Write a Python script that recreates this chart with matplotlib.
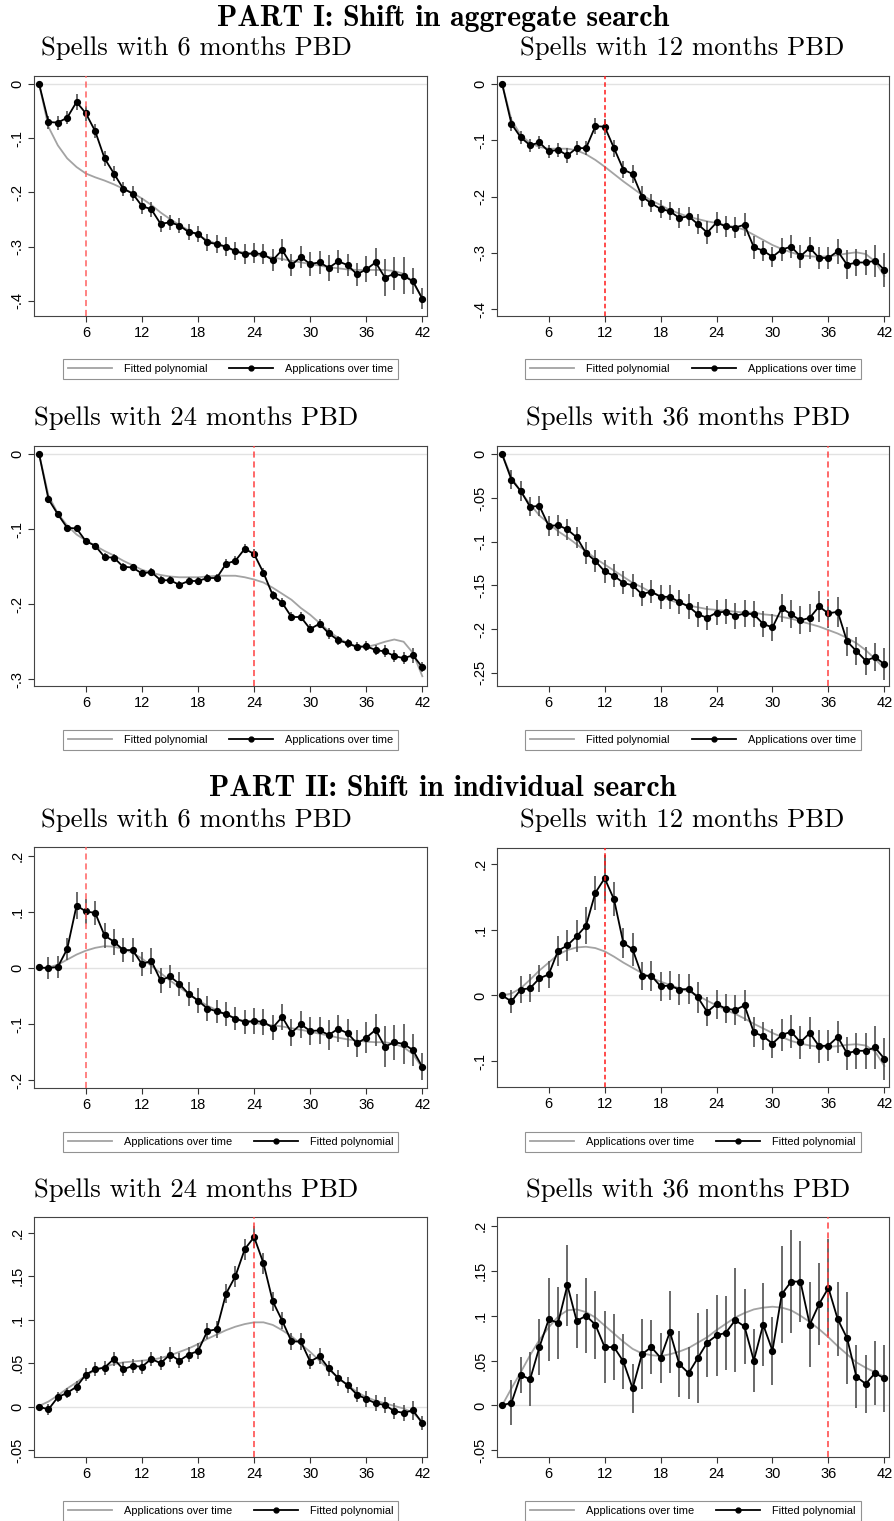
"""Applications over unemployment spell, by potential benefit duration (PBD).

Part I: aggregate search, Part II: individual search.
"""

import matplotlib
matplotlib.use("Agg")
import matplotlib.pyplot as plt
from matplotlib.lines import Line2D
from matplotlib.ticker import FuncFormatter
import numpy as np

W, H = 895, 1521
CBLK = "#000000"
CGRY = "#a3a3a3"
CERR = "#505050"
CZERO = "#e2e2e2"

months = list(range(1, 43))
xticks = [6, 12, 18, 24, 30, 36, 42]

# ---- PART I: aggregate search ----
apps_agg_6 = [0, -0.070, -0.071, -0.062, -0.033, -0.054, -0.087, -0.137, -0.165, -0.193,
              -0.202, -0.225, -0.231, -0.258, -0.255, -0.261, -0.273, -0.276, -0.292, -0.295,
              -0.300, -0.308, -0.314, -0.312, -0.314, -0.325, -0.306, -0.334, -0.319, -0.332,
              -0.329, -0.339, -0.327, -0.334, -0.351, -0.342, -0.329, -0.357, -0.350, -0.354,
              -0.364, -0.396]
ci_agg_6 = [0, 0.012, 0.013, 0.012, 0.015, 0.014, 0.013, 0.014, 0.014, 0.013,
            0.014, 0.014, 0.014, 0.015, 0.014, 0.014, 0.015, 0.015, 0.016, 0.016,
            0.018, 0.017, 0.018, 0.018, 0.018, 0.020, 0.020, 0.020, 0.020, 0.022,
            0.021, 0.024, 0.021, 0.021, 0.021, 0.024, 0.026, 0.034, 0.030, 0.034,
            0.024, 0.020]
fit_agg_6 = [0, -0.079, -0.113, -0.137, -0.153, -0.165, -0.172, -0.178, -0.185, -0.193,
             -0.201, -0.211, -0.223, -0.237, -0.249, -0.260, -0.270, -0.279, -0.288, -0.295,
             -0.302, -0.308, -0.311, -0.314, -0.318, -0.320, -0.323, -0.326, -0.329, -0.332,
             -0.335, -0.338, -0.340, -0.342, -0.343, -0.343, -0.343, -0.343, -0.345, -0.350,
             -0.365, -0.396]

apps_agg_12 = [0, -0.071, -0.095, -0.109, -0.104, -0.120, -0.117, -0.127, -0.114, -0.114,
               -0.075, -0.076, -0.114, -0.152, -0.160, -0.200, -0.212, -0.222, -0.226, -0.238,
               -0.235, -0.249, -0.264, -0.246, -0.253, -0.255, -0.250, -0.290, -0.296, -0.307,
               -0.294, -0.289, -0.306, -0.291, -0.309, -0.309, -0.297, -0.321, -0.317, -0.317,
               -0.314, -0.330]
ci_agg_12 = [0, 0.012, 0.012, 0.012, 0.012, 0.012, 0.012, 0.013, 0.013, 0.013,
             0.014, 0.014, 0.015, 0.015, 0.016, 0.018, 0.016, 0.016, 0.016, 0.017,
             0.017, 0.018, 0.020, 0.018, 0.018, 0.018, 0.020, 0.020, 0.018, 0.018,
             0.020, 0.020, 0.020, 0.020, 0.020, 0.020, 0.022, 0.026, 0.024, 0.023,
             0.028, 0.030]
fit_agg_12 = [0, -0.064, -0.091, -0.105, -0.112, -0.115, -0.115, -0.115, -0.118, -0.125,
              -0.135, -0.147, -0.160, -0.173, -0.185, -0.197, -0.207, -0.215, -0.224, -0.230,
              -0.236, -0.240, -0.244, -0.247, -0.251, -0.254, -0.259, -0.268, -0.277, -0.286,
              -0.293, -0.299, -0.304, -0.306, -0.307, -0.306, -0.304, -0.301, -0.299, -0.302,
              -0.315, -0.341]

apps_agg_24 = [0, -0.060, -0.080, -0.098, -0.099, -0.116, -0.122, -0.137, -0.138, -0.150,
               -0.151, -0.159, -0.157, -0.168, -0.168, -0.174, -0.169, -0.169, -0.165, -0.165,
               -0.146, -0.142, -0.126, -0.133, -0.158, -0.188, -0.198, -0.217, -0.217, -0.233,
               -0.226, -0.239, -0.248, -0.252, -0.257, -0.256, -0.261, -0.263, -0.269, -0.272,
               -0.268, -0.284]
ci_agg_24 = [0, 0.005, 0.004, 0.004, 0.004, 0.004, 0.004, 0.005, 0.005, 0.005,
             0.005, 0.005, 0.005, 0.005, 0.005, 0.005, 0.005, 0.005, 0.005, 0.005,
             0.006, 0.006, 0.006, 0.006, 0.006, 0.006, 0.006, 0.006, 0.006, 0.006,
             0.006, 0.007, 0.006, 0.006, 0.006, 0.007, 0.007, 0.008, 0.008, 0.008,
             0.010, 0.007]
fit_agg_24 = [0, -0.055, -0.079, -0.095, -0.107, -0.115, -0.122, -0.129, -0.135, -0.142,
              -0.148, -0.154, -0.158, -0.161, -0.163, -0.164, -0.164, -0.164, -0.163, -0.162,
              -0.162, -0.162, -0.164, -0.167, -0.171, -0.178, -0.186, -0.194, -0.205, -0.214,
              -0.225, -0.236, -0.245, -0.252, -0.256, -0.257, -0.254, -0.250, -0.247, -0.250,
              -0.265, -0.296]

apps_agg_36 = [0, -0.029, -0.042, -0.060, -0.059, -0.082, -0.081, -0.086, -0.095, -0.113,
               -0.122, -0.134, -0.139, -0.147, -0.150, -0.160, -0.157, -0.163, -0.163, -0.169,
               -0.174, -0.183, -0.187, -0.181, -0.180, -0.185, -0.182, -0.183, -0.194, -0.198,
               -0.176, -0.183, -0.190, -0.187, -0.174, -0.182, -0.180, -0.214, -0.225, -0.236,
               -0.232, -0.240]
ci_agg_36 = [0, 0.011, 0.011, 0.011, 0.011, 0.012, 0.012, 0.012, 0.012, 0.013,
             0.013, 0.013, 0.013, 0.013, 0.013, 0.013, 0.013, 0.014, 0.014, 0.014,
             0.014, 0.014, 0.014, 0.014, 0.014, 0.015, 0.015, 0.015, 0.015, 0.015,
             0.016, 0.016, 0.016, 0.016, 0.018, 0.017, 0.017, 0.017, 0.016, 0.016,
             0.016, 0.018]
fit_agg_36 = [0, -0.026, -0.043, -0.057, -0.070, -0.079, -0.088, -0.095, -0.103, -0.111,
              -0.119, -0.126, -0.133, -0.140, -0.147, -0.152, -0.158, -0.162, -0.167, -0.170,
              -0.173, -0.175, -0.177, -0.178, -0.179, -0.180, -0.181, -0.181, -0.183, -0.184,
              -0.186, -0.188, -0.191, -0.194, -0.197, -0.201, -0.205, -0.210, -0.216, -0.224,
              -0.234, -0.245]

# ---- PART II: individual search ----
apps_ind_6 = [0.001, 0.000, 0.002, 0.034, 0.111, 0.101, 0.098, 0.058, 0.047, 0.032,
              0.032, 0.007, 0.013, -0.022, -0.015, -0.028, -0.046, -0.058, -0.072, -0.077,
              -0.082, -0.090, -0.096, -0.094, -0.096, -0.106, -0.087, -0.115, -0.100, -0.112,
              -0.111, -0.119, -0.108, -0.116, -0.134, -0.124, -0.110, -0.140, -0.132, -0.135,
              -0.146, -0.176]
ci_ind_6 = [0, 0.019, 0.019, 0.020, 0.024, 0.022, 0.021, 0.022, 0.023, 0.022,
            0.021, 0.022, 0.023, 0.022, 0.021, 0.021, 0.022, 0.022, 0.022, 0.021,
            0.022, 0.021, 0.021, 0.023, 0.023, 0.022, 0.023, 0.024, 0.024, 0.025,
            0.024, 0.027, 0.024, 0.025, 0.024, 0.028, 0.028, 0.037, 0.031, 0.036,
            0.028, 0.024]
fit_ind_6 = [0, 0.001, 0.006, 0.015, 0.024, 0.031, 0.036, 0.039, 0.038, 0.034,
             0.027, 0.017, 0.004, -0.009, -0.022, -0.034, -0.046, -0.057, -0.067, -0.075,
             -0.083, -0.090, -0.094, -0.098, -0.100, -0.102, -0.104, -0.107, -0.110, -0.113,
             -0.117, -0.120, -0.124, -0.127, -0.129, -0.131, -0.132, -0.132, -0.135, -0.141,
             -0.153, -0.178]

apps_ind_12 = [0.000, -0.009, 0.009, 0.011, 0.026, 0.032, 0.068, 0.076, 0.090, 0.106,
               0.156, 0.178, 0.146, 0.080, 0.070, 0.030, 0.030, 0.014, 0.015, 0.009,
               0.010, -0.003, -0.025, -0.013, -0.020, -0.022, -0.015, -0.056, -0.062, -0.073,
               -0.060, -0.055, -0.071, -0.057, -0.077, -0.076, -0.063, -0.088, -0.084, -0.084,
               -0.079, -0.096]
ci_ind_12 = [0, 0.017, 0.020, 0.021, 0.020, 0.021, 0.023, 0.024, 0.024, 0.028,
             0.026, 0.035, 0.026, 0.023, 0.025, 0.021, 0.023, 0.022, 0.022, 0.023,
             0.023, 0.024, 0.022, 0.022, 0.022, 0.023, 0.024, 0.023, 0.021, 0.022,
             0.024, 0.025, 0.025, 0.025, 0.025, 0.024, 0.025, 0.025, 0.027, 0.027,
             0.032, 0.032]
fit_ind_12 = [0, 0.003, 0.011, 0.024, 0.038, 0.050, 0.062, 0.069, 0.073, 0.074,
              0.072, 0.067, 0.059, 0.050, 0.042, 0.034, 0.027, 0.021, 0.016, 0.011,
              0.006, 0.000, -0.008, -0.015, -0.022, -0.028, -0.035, -0.043, -0.050, -0.057,
              -0.063, -0.069, -0.073, -0.076, -0.078, -0.078, -0.077, -0.075, -0.074, -0.076,
              -0.085, -0.107]

apps_ind_24 = [0.000, -0.003, 0.011, 0.016, 0.023, 0.037, 0.043, 0.045, 0.055, 0.043,
               0.047, 0.046, 0.055, 0.050, 0.060, 0.053, 0.060, 0.064, 0.087, 0.089,
               0.130, 0.150, 0.181, 0.195, 0.165, 0.121, 0.099, 0.075, 0.075, 0.052,
               0.058, 0.044, 0.033, 0.025, 0.014, 0.009, 0.004, 0.002, -0.005, -0.007,
               -0.004, -0.019]
ci_ind_24 = [0, 0.006, 0.006, 0.006, 0.007, 0.007, 0.008, 0.008, 0.008, 0.008,
             0.008, 0.008, 0.008, 0.008, 0.009, 0.009, 0.009, 0.009, 0.009, 0.010,
             0.011, 0.012, 0.012, 0.013, 0.012, 0.011, 0.010, 0.010, 0.010, 0.009,
             0.009, 0.009, 0.009, 0.009, 0.009, 0.009, 0.009, 0.009, 0.009, 0.009,
             0.011, 0.008]
fit_ind_24 = [0.001, 0.006, 0.013, 0.021, 0.028, 0.036, 0.042, 0.046, 0.049, 0.051,
              0.052, 0.053, 0.054, 0.056, 0.059, 0.063, 0.067, 0.072, 0.078, 0.083,
              0.088, 0.092, 0.095, 0.097, 0.097, 0.094, 0.088, 0.081, 0.072, 0.063,
              0.053, 0.043, 0.033, 0.025, 0.017, 0.011, 0.007, 0.004, 0.001, -0.002,
              -0.007, -0.017]

apps_ind_36 = [0.000, 0.003, 0.034, 0.029, 0.065, 0.096, 0.092, 0.134, 0.094, 0.100,
               0.090, 0.065, 0.065, 0.049, 0.019, 0.057, 0.065, 0.053, 0.082, 0.046,
               0.036, 0.053, 0.070, 0.078, 0.081, 0.095, 0.088, 0.050, 0.090, 0.061,
               0.124, 0.138, 0.138, 0.090, 0.113, 0.131, 0.096, 0.075, 0.032, 0.024,
               0.036, 0.030]
ci_ind_36 = [0, 0.025, 0.020, 0.030, 0.031, 0.046, 0.040, 0.045, 0.030, 0.042,
             0.038, 0.040, 0.037, 0.031, 0.027, 0.039, 0.030, 0.028, 0.046, 0.037,
             0.029, 0.050, 0.038, 0.045, 0.041, 0.058, 0.042, 0.035, 0.046, 0.038,
             0.054, 0.057, 0.045, 0.047, 0.046, 0.054, 0.041, 0.051, 0.035, 0.032,
             0.036, 0.037]
fit_ind_36 = [0, 0.019, 0.037, 0.056, 0.073, 0.087, 0.099, 0.106, 0.107, 0.104,
              0.098, 0.089, 0.080, 0.071, 0.063, 0.058, 0.056, 0.055, 0.057, 0.060,
              0.064, 0.070, 0.076, 0.084, 0.091, 0.098, 0.103, 0.107, 0.109, 0.110,
              0.109, 0.106, 0.100, 0.093, 0.085, 0.076, 0.066, 0.057, 0.048, 0.042,
              0.037, 0.032]

pbd = [6, 12, 24, 36, 6, 12, 24, 36]
titles = [f"Spells with {m} months PBD" for m in pbd]
part_titles = ["PART I: Shift in aggregate search", "PART II: Shift in individual search"]
legend_labels = [("Fitted polynomial", "Applications over time"),
                 ("Applications over time", "Fitted polynomial")]

yticks = [[0, -0.1, -0.2, -0.3, -0.4],
          [0, -0.1, -0.2, -0.3, -0.4],
          [0, -0.1, -0.2, -0.3],
          [0, -0.05, -0.1, -0.15, -0.2, -0.25],
          [0.2, 0.1, 0, -0.1, -0.2],
          [0.2, 0.1, 0, -0.1],
          [0.2, 0.15, 0.1, 0.05, 0, -0.05],
          [0.2, 0.15, 0.1, 0.05, 0, -0.05]]
ylims = [(-0.428, 0.015), (-0.412, 0.014), (-0.309, 0.011), (-0.265, 0.0095),
         (-0.2135, 0.2155), (-0.139, 0.224), (-0.0577, 0.218), (-0.0575, 0.21)]

# axes boxes in pixels: left, top, right, bottom
BOXES = [(34, 76, 427, 316), (497, 76, 889, 316),
         (34, 446, 427, 686), (497, 446, 889, 686),
         (34, 847, 427, 1088), (497, 848, 889, 1087),
         (34, 1217, 427, 1457), (497, 1217, 889, 1457)]
TITLE_X = [196, 682, 196, 688, 196, 682, 196, 688]
TITLE_Y = [48, 48, 418, 418, 820, 820, 1190, 1190]
LEGEND_Y = [369, 369, 740, 740, 1142, 1142, 1511, 1511]
VLINE_STYLE = [("#ff6060", (4, 2.5)), ("#ff1a1a", (3, 2)), ("#ff4040", (4, 2.5)),
               ("#ff4040", (4, 2.5)), ("#ff6060", (4, 2.5)), ("#ff1a1a", (3, 2)),
               ("#ff4040", (4, 2.5)), ("#ff4040", (4, 2.5))]


def _fmt(v, _pos=None):
    """Stata-style tick label: no leading zero."""
    if abs(v) < 1e-9:
        return "0"
    s = f"{v:.2f}".rstrip("0")
    return s.replace("0.", ".")


def _box(b):
    l, t, r, bt = b
    return [l / W, 1 - bt / H, (r - l) / W, (bt - t) / H]


def draw_panel(fig, i, apps, ci, fit, labels):
    ax = fig.add_axes(_box(BOXES[i]))
    x = np.array(months)
    y = np.array(apps)
    e = np.array(ci)
    ax.axhline(0, color=CZERO, lw=1.0, zorder=1)
    ax.plot(x, fit, color=CGRY, lw=1.3, zorder=2)
    ax.vlines(x, y - e, y + e, color=CERR, lw=1.2, zorder=3)
    ax.plot(x, y, color=CBLK, lw=1.3, marker="o", ms=4.2, zorder=4)
    col, dash = VLINE_STYLE[i]
    ax.axvline(pbd[i], color=col, lw=1.1, dashes=dash, zorder=5)

    ax.set_xlim(0.45, 42.5)
    ax.set_ylim(*ylims[i])
    ax.set_xticks(xticks)
    ax.set_yticks(yticks[i])
    ax.yaxis.set_major_formatter(FuncFormatter(_fmt))
    for lab in ax.get_yticklabels():
        lab.set_rotation(90)
        lab.set_va("center")
    ax.tick_params(direction="out", length=4, width=0.8, color="#333333",
                   labelsize=10.5, pad=3)
    for s in ax.spines.values():
        s.set_color("#444444")
        s.set_linewidth(0.8)

    l, t, r, b = BOXES[i]
    fig.text(TITLE_X[i] / W, 1 - TITLE_Y[i] / H,
             titles[i], ha="center", va="center", fontsize=19.2, family="cmr10")

    handles = [Line2D([], [], color=CGRY, lw=1.3, label=labels[0]),
               Line2D([], [], color=CBLK, lw=1.3, marker="o", ms=3.5, label=labels[1])]
    leg = fig.legend(handles=handles, loc="center", ncol=2,
                     bbox_to_anchor=((l + r) / 2 / W, 1 - LEGEND_Y[i] / H),
                     frameon=True, fancybox=False, handlelength=4.0,
                     columnspacing=2.0, handletextpad=1.1, borderpad=0.45,
                     prop={"family": "Liberation Sans", "size": 7.9})
    leg.get_frame().set_edgecolor("#777777")
    leg.get_frame().set_linewidth(0.8)
    return ax


def main():
    plt.rcParams["font.family"] = ["Liberation Sans", "DejaVu Sans"]
    fig = plt.figure(figsize=(W / 100, H / 100), dpi=100)
    fig.patch.set_facecolor("white")

    series = [(apps_agg_6, ci_agg_6, fit_agg_6), (apps_agg_12, ci_agg_12, fit_agg_12),
              (apps_agg_24, ci_agg_24, fit_agg_24), (apps_agg_36, ci_agg_36, fit_agg_36),
              (apps_ind_6, ci_ind_6, fit_ind_6), (apps_ind_12, ci_ind_12, fit_ind_12),
              (apps_ind_24, ci_ind_24, fit_ind_24), (apps_ind_36, ci_ind_36, fit_ind_36)]
    for i, (a, c, f) in enumerate(series):
        assert len(a) == len(c) == len(f) == 42, i
        draw_panel(fig, i, a, c, f, legend_labels[i // 4])

    fig.text(443 / W, 1 - 18 / H, part_titles[0], ha="center", va="center",
             fontsize=21.5, family="cmb10")
    fig.text(443 / W, 1 - 788 / H, part_titles[1], ha="center", va="center",
             fontsize=21.5, family="cmb10")

    fig.savefig("out.png", dpi=100, facecolor="white")
    plt.close(fig)


if __name__ == "__main__":
    main()
